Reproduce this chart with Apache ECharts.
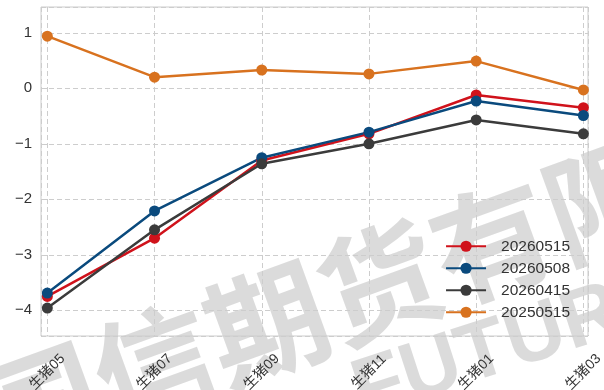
<!DOCTYPE html>
<html>
<head>
<meta charset="utf-8">
<script src="https://cdn.jsdelivr.net/npm/echarts@6/dist/echarts.min.js"></script>
<style>
  html, body { margin: 0; padding: 0; background: #ffffff; }
  #chart { width: 604px; height: 390px; }
</style>
</head>
<body>
<div id="chart"></div>
<script>
// Contract labels along the x axis
const categories = ['生猪05', '生猪07', '生猪09', '生猪11', '生猪01', '生猪03'];

// Spread values per snapshot date
const s20260515 = [-3.75, -2.70, -1.30, -0.82, -0.12, -0.35];
const s20260508 = [-3.69, -2.21, -1.25, -0.79, -0.23, -0.49];
const s20260415 = [-3.96, -2.55, -1.36, -1.00, -0.57, -0.82];
const s20250515 = [0.94, 0.20, 0.33, 0.26, 0.49, -0.03];

const seriesNames = ['20260515', '20260508', '20260415', '20250515'];
const seriesValues = [s20260515, s20260508, s20260415, s20250515];
const seriesColors = ['#d0121b', '#0a4a7d', '#3b3b3b', '#d8721f'];

const FONT = '"Liberation Sans", "Noto Sans CJK SC", sans-serif';

const chart = echarts.init(document.getElementById('chart'), null, { renderer: 'canvas' });

const series = seriesNames.map((name, k) => ({
  name: name,
  type: 'line',
  data: seriesValues[k].map((v, i) => [i, v]),
  symbol: 'circle',
  symbolSize: 11,
  lineStyle: { width: 2.5, color: seriesColors[k] },
  itemStyle: { color: seriesColors[k] },
  emphasis: { disabled: true },
  animation: false
}));

const isWhole = v => Math.abs(v - Math.round(v)) < 1e-6;

chart.setOption({
  backgroundColor: '#ffffff',
  animation: false,
  graphic: [
    {
      type: 'text',
      x: 436, y: 262,
      rotation: 20 * Math.PI / 180,
      z: -1,
      silent: true,
      style: {
        text: '国信期货有限公司',
        font: 'bold 120px "Noto Sans CJK SC", sans-serif',
        fill: 'rgba(150,150,150,0.34)',
        align: 'center',
        verticalAlign: 'middle'
      }
    },
    {
      type: 'text',
      x: 540, y: 336,
      rotation: 18 * Math.PI / 180,
      z: -1,
      silent: true,
      style: {
        text: 'FUTURES',
        font: 'bold 82px "Liberation Sans", sans-serif',
        fill: 'rgba(150,150,150,0.34)',
        align: 'center',
        verticalAlign: 'middle'
      }
    }
  ],
  grid: {
    left: 41, right: 16, top: 7, bottom: 54,
    outerBoundsMode: 'none',
    containLabel: false,
    show: true,
    borderColor: '#cccccc',
    borderWidth: 1,
    backgroundColor: 'transparent'
  },
  legend: {
    orient: 'vertical',
    right: 29,
    top: 233.5,
    itemWidth: 40,
    itemHeight: 14,
    itemGap: 6.5,
    textStyle: { fontSize: 15.5, color: '#333333', fontFamily: FONT, padding: [0, 0, 0, 10] },
    data: seriesNames
  },
  xAxis: {
    type: 'value',
    min: -0.059,
    max: 5.043,
    axisLine: { show: false },
    axisTick: { show: false },
    splitLine: { show: true, lineStyle: { color: '#cdcdcd', type: [5, 3], width: 1 } },
    axisLabel: {
      showMinLabel: false,
      showMaxLabel: false,
      rotate: 45,
      align: 'center',
      verticalAlign: 'middle',
      margin: 36,
      fontSize: 14,
      color: '#333333',
      fontFamily: FONT,
      formatter: v => (isWhole(v) ? (categories[Math.round(v)] || '') : '')
    }
  },
  yAxis: {
    type: 'value',
    min: -4.463,
    max: 1.465,
    axisLine: { show: false },
    axisTick: { show: true, length: 4, lineStyle: { color: '#cccccc' } },
    splitLine: { show: true, lineStyle: { color: '#cdcdcd', type: [5, 3], width: 1 } },
    axisLabel: {
      showMinLabel: false,
      showMaxLabel: false,
      margin: 9,
      fontSize: 15,
      color: '#333333',
      fontFamily: FONT,
      formatter: v => (isWhole(v) ? String(Math.round(v)).replace('-', '\u2212') : '')
    }
  },
  series: series
});
</script>
</body>
</html>
